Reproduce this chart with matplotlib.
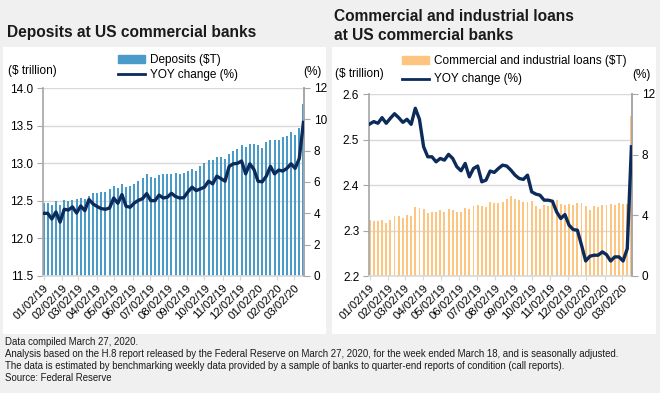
import pandas as pd
import matplotlib
matplotlib.use("Agg")
import matplotlib.pyplot as plt
import matplotlib.dates as mdates
from matplotlib.patches import Rectangle, Patch
from matplotlib.lines import Line2D

plt.rcParams['font.family'] = ['Liberation Sans', 'DejaVu Sans']

# weekly dates, Jan 2 2019 to Mar 18 2020
weeks = pd.date_range('2019-01-02', periods=64, freq='7D')

deposits = [12.47, 12.47, 12.44, 12.50, 12.45, 12.51, 12.50, 12.51, 12.52, 12.54,
            12.53, 12.57, 12.61, 12.61, 12.62, 12.62, 12.66, 12.70, 12.67, 12.73,
            12.69, 12.70, 12.72, 12.76, 12.80, 12.85, 12.81, 12.80, 12.84, 12.85,
            12.86, 12.86, 12.87, 12.86, 12.87, 12.89, 12.92, 12.90, 12.96, 13.00,
            13.04, 13.04, 13.08, 13.08, 13.06, 13.12, 13.16, 13.19, 13.24, 13.22,
            13.25, 13.25, 13.24, 13.20, 13.28, 13.31, 13.31, 13.31, 13.35, 13.36,
            13.41, 13.38, 13.47, 13.79]
deposits_yoy = [4.0, 4.0, 3.64, 4.09, 3.44, 4.26, 4.21, 4.41, 4.02, 4.47,
                4.17, 4.88, 4.60, 4.43, 4.30, 4.26, 4.34, 4.98, 4.64, 5.2,
                4.45, 4.39, 4.66, 4.83, 4.94, 5.26, 4.81, 4.81, 5.16, 4.98,
                5.03, 5.28, 5.07, 4.98, 5.0, 5.37, 5.67, 5.45, 5.56, 5.67,
                6.05, 5.88, 6.37, 6.22, 6.05, 7.0, 7.16, 7.19, 7.34, 6.52,
                7.16, 6.80, 6.05, 6.01, 6.37, 7.0, 6.52, 6.76, 6.70, 6.87,
                7.16, 6.87, 7.5, 9.8]

loans = [2.323, 2.321, 2.321, 2.323, 2.316, 2.323, 2.332, 2.332, 2.327, 2.334,
         2.332, 2.351, 2.349, 2.347, 2.338, 2.340, 2.340, 2.345, 2.340, 2.347,
         2.345, 2.340, 2.340, 2.349, 2.347, 2.354, 2.356, 2.354, 2.351, 2.362,
         2.361, 2.361, 2.362, 2.370, 2.3755, 2.370, 2.366, 2.362, 2.362, 2.365,
         2.353, 2.348, 2.356, 2.354, 2.358, 2.367, 2.358, 2.356, 2.359, 2.356,
         2.360, 2.360, 2.353, 2.345, 2.353, 2.351, 2.356, 2.356, 2.358, 2.356,
         2.360, 2.358, 2.358, 2.552]
loans_yoy = [10.02, 10.18, 10.07, 10.44, 10.07, 10.4, 10.7, 10.44, 10.13, 10.33,
             10.0, 11.06, 10.33, 8.52, 7.86, 7.86, 7.53, 7.75, 7.64, 8.02,
             7.75, 7.2, 6.94, 7.42, 6.54, 7.09, 7.25, 6.21, 6.32, 6.92,
             6.83, 7.09, 7.31, 7.25, 6.98, 6.65, 6.43, 6.37, 6.65, 5.55,
             5.40, 5.33, 5.0, 5.0, 4.93, 4.23, 3.79, 4.05, 3.35, 3.06,
             3.02, 2.03, 0.99, 1.30, 1.37, 1.37, 1.59, 1.41, 0.99, 1.26,
             1.26, 0.99, 1.8, 8.52]

bar_blue = '#4b9bca'
bar_orange = '#fdc57f'
navy = '#0c2b5b'
axis_grey = '#a6a6a6'
grid_grey = '#d9d9d9'

W, H = 660, 393
fig = plt.figure(figsize=(6.6, 3.93), dpi=100, facecolor='#f0f0f0')


def fx(px):
    return px / W


def fy(py):
    return 1 - py / H


# white panels behind the charts
for x0, x1 in [(3, 326), (332, 656)]:
    fig.patches.append(Rectangle((fx(x0), fy(334)), fx(x1 - x0), (334 - 47) / H,
                                 transform=fig.transFigure, facecolor='white',
                                 edgecolor='none', zorder=-10))

fig.text(fx(7), fy(33), 'Deposits at US commercial banks', fontsize=11.2,
         fontweight='bold', color='#1a1a1a', va='center')
fig.text(fx(334), fy(26), 'Commercial and industrial loans\nat US commercial banks',
         fontsize=11.2, fontweight='bold', color='#1a1a1a', va='center',
         linespacing=1.35)


def make_panel(rect, bars, yoy, color, ylim, yticks, rticks, yfmt, bar_w):
    ax = fig.add_axes(rect)
    ax.set_facecolor('none')
    ax.bar(weeks, [v - ylim[0] for v in bars], bottom=ylim[0], width=bar_w,
           color=color, linewidth=0, zorder=2)
    ax.set_ylim(*ylim)
    ax.set_yticks(yticks)
    ax.set_yticklabels([yfmt.format(t) for t in yticks])
    ax.grid(axis='y', color=grid_grey, linewidth=1, zorder=0)
    ax.set_xlim(weeks[0] - pd.Timedelta(days=1), weeks[-1] + pd.Timedelta(days=1))
    ax.xaxis.set_major_locator(mdates.MonthLocator(bymonthday=2))
    ax.xaxis.set_major_formatter(mdates.DateFormatter('%m/%d/%y'))
    for lab in ax.get_xticklabels():
        lab.set_rotation(45)
        lab.set_ha('right')
        lab.set_rotation_mode('anchor')
    ax.tick_params(axis='x', length=3, color=grid_grey, labelsize=8.2, pad=2)
    ax.tick_params(axis='y', length=4, color=axis_grey, labelsize=8.5, pad=3)
    ax.spines['top'].set_visible(False)
    for s in ['left', 'right', 'bottom']:
        ax.spines[s].set_color(axis_grey)
        ax.spines[s].set_linewidth(1.2)
    ax.spines['bottom'].set_color(grid_grey)

    ax2 = ax.twinx()
    ax2.plot(weeks, yoy, color=navy, linewidth=2.4, zorder=3,
             solid_joinstyle='round')
    ax2.set_ylim(0, 12)
    ax2.set_yticks(rticks)
    ax2.tick_params(axis='y', length=4, color=axis_grey, labelsize=8.5, pad=3)
    for s in ['top', 'left', 'bottom']:
        ax2.spines[s].set_visible(False)
    ax2.spines['right'].set_color(axis_grey)
    ax2.spines['right'].set_linewidth(1.2)
    return ax, ax2


axL, axL2 = make_panel([fx(43), fy(276), fx(304 - 43), (276 - 88) / H],
                       deposits, deposits_yoy, bar_blue, (11.5, 14.0),
                       [11.5, 12.0, 12.5, 13.0, 13.5, 14.0], [0, 2, 4, 6, 8, 10, 12],
                       '{:.1f}', 3.4)
axR, axR2 = make_panel([fx(369), fy(276), fx(632 - 369), (276 - 94) / H],
                       loans, loans_yoy, bar_orange, (2.2, 2.6),
                       [2.2, 2.3, 2.4, 2.5, 2.6], [0, 4, 8, 12],
                       '{:.1f}', 3.2)

fig.text(fx(8), fy(71), '($ trillion)', fontsize=8.5, va='center')
fig.text(fx(322), fy(72), '(%)', fontsize=8.5, va='center', ha='right')
fig.text(fx(335), fy(74), '($ trillion)', fontsize=8.5, va='center')
fig.text(fx(651), fy(75), '(%)', fontsize=8.5, va='center', ha='right')

fig.legend([Patch(color=bar_blue), Line2D([], [], color=navy, linewidth=2)],
           ['Deposits ($T)', 'YOY change (%)'], loc='upper left',
           bbox_to_anchor=(fx(118), fy(54)), frameon=False, fontsize=8.5,
           handlelength=2.3, handleheight=0.6, handletextpad=0.4,
           labelspacing=0.25, borderpad=0, borderaxespad=0)
fig.legend([Patch(color=bar_orange), Line2D([], [], color=navy, linewidth=2)],
           ['Commercial and industrial loans ($T)', 'YOY change (%)'],
           loc='upper left', bbox_to_anchor=(fx(402), fy(55)), frameon=False,
           fontsize=8.5, handlelength=2.3, handleheight=0.6, handletextpad=0.4,
           labelspacing=0.55, borderpad=0, borderaxespad=0)

notes = ("Data compiled March 27, 2020.\n"
         "Analysis based on the H.8 report released by the Federal Reserve on March 27, 2020, "
         "for the week ended March 18, and is seasonally adjusted.\n"
         "The data is estimated by benchmarking weekly data provided by a sample of banks "
         "to quarter-end reports of condition (call reports).\n"
         "Source: Federal Reserve")
fig.text(fx(5), fy(337), notes, fontsize=6.9, va='top', linespacing=1.25,
         family=['Liberation Sans Narrow', 'Liberation Sans'], color='#1a1a1a')

fig.savefig('out.png', dpi=100, facecolor=fig.get_facecolor())
